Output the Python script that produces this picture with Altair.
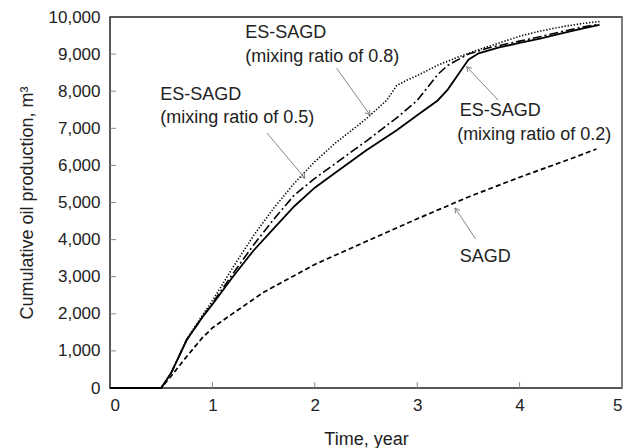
import altair as alt
import numpy as np
import pandas as pd

# Cumulative oil production (m3) versus time (years) for each process
t_es02 = [0, 0.5, 0.6, 0.75, 0.9, 1.0, 1.2, 1.4, 1.6, 1.8, 2.0, 2.2, 2.5, 2.8, 3.0,
          3.2, 3.3, 3.4, 3.5, 3.6, 3.8, 4.0, 4.2, 4.4, 4.6, 4.78]
v_es02 = [0, 0, 420, 1300, 1900, 2250, 3000, 3700, 4300, 4900, 5400, 5800, 6400, 6950, 7350,
          7750, 8050, 8450, 8850, 9020, 9180, 9300, 9420, 9550, 9680, 9790]

t_es05 = [0, 0.5, 0.6, 0.75, 0.9, 1.0, 1.2, 1.4, 1.6, 1.8, 2.0, 2.2, 2.5, 2.8, 3.0,
          3.1, 3.2, 3.3, 3.4, 3.5, 3.7, 4.0, 4.2, 4.4, 4.6, 4.78]
v_es05 = [0, 0, 420, 1300, 1900, 2280, 3080, 3850, 4550, 5200, 5650, 6050, 6650, 7280, 7750,
          8100, 8450, 8700, 8850, 9000, 9170, 9350, 9470, 9600, 9720, 9810]

t_es08 = [0, 0.5, 0.6, 0.75, 0.9, 1.0, 1.2, 1.4, 1.6, 1.8, 2.0, 2.2, 2.5, 2.7, 2.8,
          2.9, 3.0, 3.2, 3.4, 3.6, 3.8, 4.0, 4.2, 4.4, 4.6, 4.78]
v_es08 = [0, 0, 420, 1320, 1950, 2350, 3250, 4100, 4850, 5520, 6100, 6600, 7250, 7750, 8150,
          8300, 8420, 8700, 8920, 9120, 9300, 9480, 9620, 9730, 9820, 9880]

t_sagd = [0, 0.5, 0.6, 0.72, 0.9, 1.0, 1.2, 1.5, 2.0, 2.5, 3.0, 3.5, 4.0, 4.5, 4.75]
v_sagd = [0, 0, 330, 750, 1350, 1620, 2010, 2580, 3330, 3950, 4560, 5150, 5680, 6180, 6440]

# Annotation labels (anchor time, anchor value, text)
label_t = [1.32, 1.32, 0.49, 0.49, 3.415, 3.39, 3.415]
label_v = [9570, 8920, 7900, 7280, 7470, 6820, 3530]
label_text = ["ES-SAGD", "(mixing ratio of 0.8)", "ES-SAGD", "(mixing ratio of 0.5)",
              "ES-SAGD", "(mixing ratio of 0.2)", "SAGD"]

# Leader arrows: start point -> tip on the curve
arrow_t0 = [2.214, 1.533, 3.789, 3.571]
arrow_v0 = [8617, 6873, 7763, 4016]
arrow_t1 = [2.539, 1.904, 3.483, 3.369]
arrow_v1 = [7358, 5652, 8660, 4852]

W, H = 512, 371
X_MAX, Y_MAX = 5, 10000
FONT = "Liberation Sans"
INK = "#222222"

x_scale = alt.Scale(domain=[0, X_MAX], nice=False)
y_scale = alt.Scale(domain=[0, Y_MAX], nice=False)

x_axis = alt.Axis(title="Time, year", values=[0, 1, 2, 3, 4, 5], format="d",
                  grid=False, ticks=False, domain=False, labelPadding=9,
                  labelOverlap=False,
                  labelFontSize=17, labelFont=FONT, labelColor=INK,
                  titleFontSize=18, titleFont=FONT, titleColor=INK,
                  titleFontWeight=400, titleX=W / 2, titleY=51,
                  titleBaseline="middle")
y_axis = alt.Axis(title="Cumulative oil production, m³",
                  values=list(range(0, 10001, 1000)), format=",d",
                  grid=False, ticks=False, domain=False, labelPadding=10,
                  labelOverlap=False,
                  labelFontSize=17, labelFont=FONT, labelColor=INK,
                  titleFontSize=18, titleFont=FONT, titleColor=INK,
                  titleFontWeight=400, titleX=-83, titleY=H / 2,
                  titleAngle=-90, titleAlign="center",
                  titleBaseline="middle")


def X(field):
    return alt.X(field, scale=x_scale, axis=x_axis)


def Y(field):
    return alt.Y(field, scale=y_scale, axis=y_axis)


def curve(ts, vs, dash, width):
    df = pd.DataFrame({"t": ts, "v": vs})
    props = dict(color="black", strokeWidth=width)
    if dash:
        props["strokeDash"] = dash
    return alt.Chart(df).mark_line(**props).encode(x=X("t:Q"), y=Y("v:Q"))


lines = [
    curve(t_sagd, v_sagd, [5, 3], 1.7),
    curve(t_es08, v_es08, [1.3, 1.8], 1.6),
    curve(t_es05, v_es05, [9, 3, 2, 3], 1.6),
    curve(t_es02, v_es02, None, 1.8),
]

# Inward tick marks
xt = alt.Chart(pd.DataFrame({"t": [1, 2, 3, 4]})).mark_rule(
    color="#888888", strokeWidth=1
).encode(x=X("t:Q"), y=alt.value(H - 6), y2=alt.value(H))

yt = alt.Chart(pd.DataFrame({"v": list(range(1000, 10000, 1000))})).mark_rule(
    color="#888888", strokeWidth=1
).encode(y=Y("v:Q"), x=alt.value(0), x2=alt.value(6))

# Right frame edge drawn lighter
right_edge = alt.Chart(pd.DataFrame({"a": [0]})).mark_rule(
    color="#8a8a8a", strokeWidth=1.5
).encode(x=alt.value(W), y=alt.value(0), y2=alt.value(H))

labels = alt.Chart(pd.DataFrame({"t": label_t, "v": label_v, "txt": label_text})).mark_text(
    align="left", baseline="middle", fontSize=18, font=FONT, color=INK
).encode(x=X("t:Q"), y=Y("v:Q"), text="txt:N")

arr = pd.DataFrame({"t0": arrow_t0, "v0": arrow_v0, "t1": arrow_t1, "v1": arrow_v1})
dx = (arr["t1"] - arr["t0"]) * W / X_MAX
dy = -(arr["v1"] - arr["v0"]) * H / Y_MAX
arr["ang"] = np.degrees(np.arctan2(dx, -dy)) % 360

arrow_lines = alt.Chart(arr).mark_rule(color="#777777", strokeWidth=0.9).encode(
    x=X("t0:Q"), y=Y("v0:Q"), x2="t1:Q", y2="v1:Q",
)
arrow_heads = alt.Chart(arr).mark_point(
    shape="M -0.55 1 L 0 0 L 0.55 1", size=90, filled=False,
    color="#777777", strokeWidth=0.9, opacity=1,
).encode(
    x=X("t1:Q"), y=Y("v1:Q"),
    angle=alt.Angle("ang:Q", scale=None),
)

chart = alt.layer(
    *lines, xt, yt, arrow_lines, arrow_heads, labels, right_edge
).properties(
    width=W, height=H,
    autosize=alt.AutoSizeParams(type="none"),
    padding={"left": 110, "top": 17, "right": 16, "bottom": 60},
    background="white",
).configure_view(
    stroke=INK, strokeWidth=1.5
).configure_axis(
    titleFontWeight=400
)

chart.save("out.html", embed_options={"renderer": "svg", "actions": False})
